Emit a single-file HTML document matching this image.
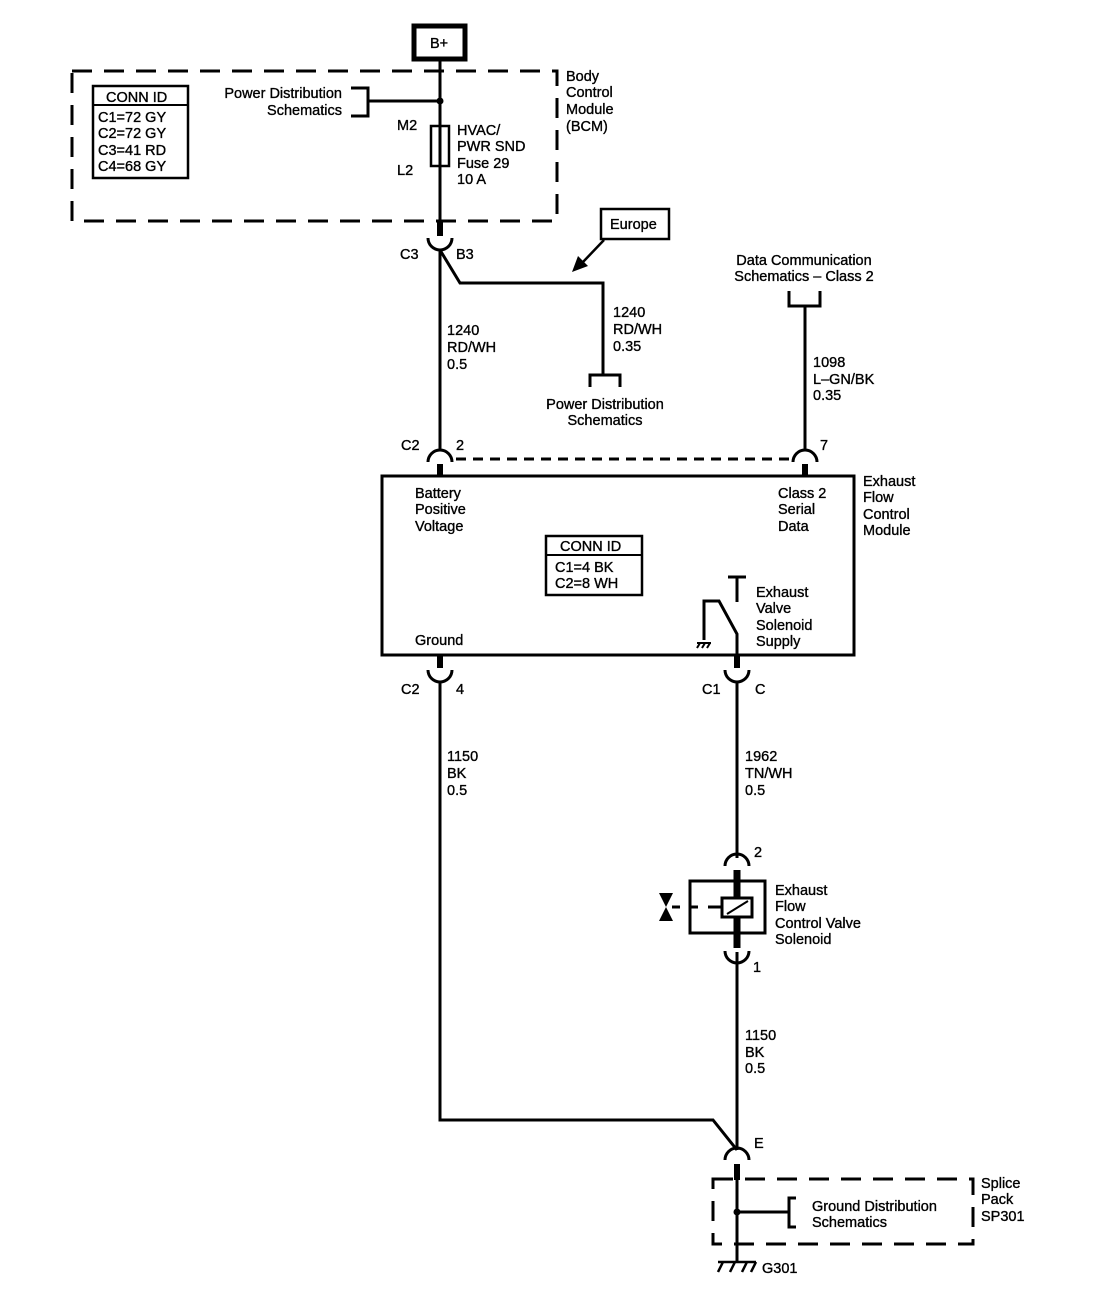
<!DOCTYPE html>
<html><head><style>body{margin:0;background:#fff}svg{display:block}text{font-family:"Liberation Sans",sans-serif;font-size:14.5px;fill:#000;stroke:#000;stroke-width:0.35}</style></head><body>
<svg width="1104" height="1312" viewBox="0 0 1104 1312" xmlns="http://www.w3.org/2000/svg">
<g fill="none" stroke="#000" stroke-width="3">
<rect x="414" y="26" width="51" height="33" stroke-width="5"/>
<line x1="440" y1="59" x2="440" y2="236"/>
<rect x="72" y="71" width="485" height="150" stroke-dasharray="20,12"/>
<rect x="93" y="86" width="95" height="92" stroke-width="2.5"/>
<line x1="93" y1="105" x2="188" y2="105" stroke-width="2"/>
<path d="M351 88 H368 V116 H351 M368 101 H440"/>
<rect x="431" y="126" width="18" height="40" stroke-width="2.5"/>
<path d="M428 238 A12 12 0 0 0 452 238"/>
<line x1="440" y1="222" x2="440" y2="236" stroke-width="6"/>
<line x1="440" y1="250" x2="440" y2="450"/>
<path d="M440 250 L460 283 H603 V375"/>
<path d="M590 387 V375 H620 V387"/>
<rect x="601" y="209" width="68" height="30" stroke-width="2.5"/>
<line x1="604" y1="240" x2="583" y2="262" stroke-width="2.5"/>
<path d="M789 291 V306 H820 V291 M805 306 V450"/>
<path d="M428 462 A12 12 0 0 1 452 462"/>
<path d="M793 462 A12 12 0 0 1 817 462"/>
<line x1="456" y1="459" x2="790" y2="459" stroke-dasharray="10,7"/>
<line x1="440" y1="464" x2="440" y2="476" stroke-width="6"/>
<line x1="805" y1="464" x2="805" y2="476" stroke-width="6"/>
<rect x="382" y="476" width="472" height="179"/>
<rect x="546" y="536" width="96" height="59" stroke-width="2.5"/>
<line x1="546" y1="555" x2="642" y2="555" stroke-width="2"/>
<path d="M728 577 H746 M737 577 V602"/>
<path d="M737 655 V634 L719 601 H704 V640"/>
<path d="M697 643 H711 M700 643 l-3 5 M705 643 l-3 5 M710 643 l-3 5" stroke-width="2"/>
<line x1="440" y1="655" x2="440" y2="668" stroke-width="6"/>
<line x1="737" y1="655" x2="737" y2="668" stroke-width="6"/>
<path d="M428 670 A12 12 0 0 0 452 670"/>
<path d="M725 670 A12 12 0 0 0 749 670"/>
<path d="M440 682 V1120 H713 L737 1150"/>
<line x1="737" y1="682" x2="737" y2="858"/>
<path d="M725 866 A12 12 0 0 1 749 866"/>
<line x1="737" y1="870" x2="737" y2="948" stroke-width="7"/>
<rect x="690" y="881" width="75" height="52"/>
<rect x="722" y="898" width="30" height="19" fill="#fff"/>
<line x1="727" y1="914" x2="748" y2="901" stroke-width="2"/>
<path d="M672 907 H680 M690 907 H698 M708 907 H722" />
<path d="M725 951 A12 12 0 0 0 749 951"/>
<line x1="737" y1="952" x2="737" y2="1150"/>
<path d="M725 1160 A12 12 0 0 1 749 1160"/>
<line x1="737" y1="1164" x2="737" y2="1180" stroke-width="6"/>
<line x1="737" y1="1180" x2="737" y2="1262"/>
<rect x="713" y="1179" width="260" height="65" stroke-dasharray="20,12"/>
<path d="M737 1212 H789 M796 1198 H789 V1227 H796"/>
<path d="M718 1262 H756 M723 1262 l-5 10 M735 1262 l-5 10 M747 1262 l-5 10 M756 1262 l-5 10" stroke-width="2.5"/>
</g>
<circle cx="440" cy="101" r="3.5"/>
<circle cx="737" cy="1212" r="3.5"/>
<polygon points="572,272 578,256 588,266"/>
<polygon points="659,893 673,893 666,907 673,921 659,921 666,907"/>
<text x="430" y="48">B+</text>
<text x="106" y="102">CONN ID</text>
<text x="98" y="122">C1=72 GY</text><text x="98" y="138">C2=72 GY</text><text x="98" y="155">C3=41 RD</text><text x="98" y="171">C4=68 GY</text>
<text x="342" y="98" text-anchor="end">Power Distribution</text><text x="342" y="115" text-anchor="end">Schematics</text>
<text x="397" y="130">M2</text><text x="397" y="175">L2</text>
<text x="457" y="135">HVAC/</text><text x="457" y="151">PWR SND</text><text x="457" y="168">Fuse 29</text><text x="457" y="184">10 A</text>
<text x="566" y="81">Body</text><text x="566" y="97">Control</text><text x="566" y="114">Module</text><text x="566" y="131">(BCM)</text>
<text x="610" y="229">Europe</text>
<text x="400" y="259">C3</text><text x="456" y="259">B3</text>
<text x="447" y="335">1240</text><text x="447" y="352">RD/WH</text><text x="447" y="369">0.5</text>
<text x="613" y="317">1240</text><text x="613" y="334">RD/WH</text><text x="613" y="351">0.35</text>
<text x="605" y="409" text-anchor="middle">Power Distribution</text><text x="605" y="425" text-anchor="middle">Schematics</text>
<text x="804" y="265" text-anchor="middle">Data Communication</text><text x="804" y="281" text-anchor="middle">Schematics – Class 2</text>
<text x="813" y="367">1098</text><text x="813" y="384">L–GN/BK</text><text x="813" y="400">0.35</text>
<text x="401" y="450">C2</text><text x="456" y="450">2</text><text x="820" y="450">7</text>
<text x="415" y="498">Battery</text><text x="415" y="514">Positive</text><text x="415" y="531">Voltage</text>
<text x="778" y="498">Class 2</text><text x="778" y="514">Serial</text><text x="778" y="531">Data</text>
<text x="863" y="486">Exhaust</text><text x="863" y="502">Flow</text><text x="863" y="519">Control</text><text x="863" y="535">Module</text>
<text x="560" y="551">CONN ID</text><text x="555" y="572">C1=4 BK</text><text x="555" y="588">C2=8 WH</text>
<text x="756" y="597">Exhaust</text><text x="756" y="613">Valve</text><text x="756" y="630">Solenoid</text><text x="756" y="646">Supply</text>
<text x="415" y="645">Ground</text>
<text x="401" y="694">C2</text><text x="456" y="694">4</text><text x="702" y="694">C1</text><text x="755" y="694">C</text>
<text x="447" y="761">1150</text><text x="447" y="778">BK</text><text x="447" y="795">0.5</text>
<text x="745" y="761">1962</text><text x="745" y="778">TN/WH</text><text x="745" y="795">0.5</text>
<text x="754" y="857">2</text>
<text x="775" y="895">Exhaust</text><text x="775" y="911">Flow</text><text x="775" y="928">Control Valve</text><text x="775" y="944">Solenoid</text>
<text x="753" y="972">1</text>
<text x="745" y="1040">1150</text><text x="745" y="1057">BK</text><text x="745" y="1073">0.5</text>
<text x="754" y="1148">E</text>
<text x="812" y="1211">Ground Distribution</text><text x="812" y="1227">Schematics</text>
<text x="981" y="1188">Splice</text><text x="981" y="1204">Pack</text><text x="981" y="1221">SP301</text>
<text x="762" y="1273">G301</text>
</svg>
</body></html>
